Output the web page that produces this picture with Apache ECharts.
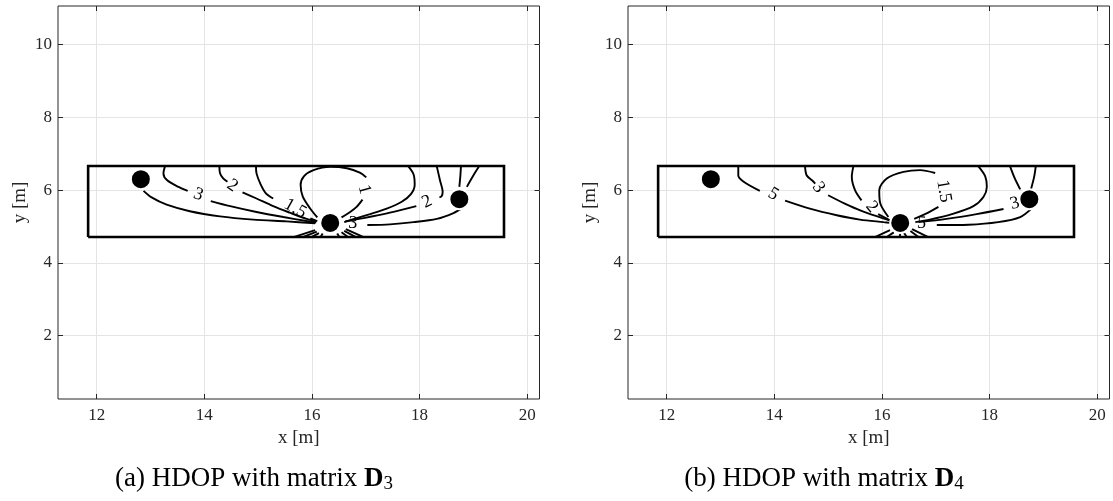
<!DOCTYPE html>
<html>
<head>
<meta charset="utf-8">
<script src="https://cdn.jsdelivr.net/npm/echarts@6/dist/echarts.min.js"></script>
<style>
  html, body { margin: 0; padding: 0; background: #fff; }
  #chart { width: 1113px; height: 501px; }
</style>
</head>
<body>
<div id="chart"></div>
<script>
// ---- axes (metres) ----
const xRange = [11.28, 20.23];
const yRange = [0.26, 11.06];
const xTicks = [12, 14, 16, 18, 20];
const yTicks = [2, 4, 6, 8, 10];
const captions = ['(a) HDOP with matrix {b|D}{s|3}', '(b) HDOP with matrix {b|D}{s|4}'];

// ---- room outline and anchors ----
const room = [[11.84, 4.71], [19.57, 4.71], [19.57, 6.665], [11.84, 6.665], [11.84, 4.71]];
const anchors = [[12.82, 6.30], [16.34, 5.10], [18.74, 5.75]];

// ---- HDOP iso-lines with matrix D3 (segments are split where a label sits) ----
const d3Level3Top = [[13.27, 6.66], [13.24, 6.46], [13.31, 6.27], [13.52, 6.09], [13.69, 5.98]];
const d3Level3Tail = [[14.12, 5.70], [14.48, 5.56], [14.97, 5.40], [15.47, 5.26], [15.90, 5.15], [16.08, 5.11]];
const d3LeftLow = [[12.87, 5.98], [13.02, 5.80], [13.30, 5.60], [13.73, 5.42], [14.29, 5.28], [14.91, 5.19], [15.53, 5.14], [16.06, 5.09]];
const d3Level2Top = [[14.28, 6.66], [14.29, 6.47], [14.35, 6.32], [14.43, 6.23]];
const d3Level2Tail = [[14.71, 5.94], [14.97, 5.77], [15.28, 5.56], [15.59, 5.38], [15.90, 5.21], [16.08, 5.14]];
const d3Level15Top = [[14.96, 6.66], [14.97, 6.46], [15.04, 6.18], [15.14, 5.92], [15.28, 5.77]];
const d3Level15Tail = [[15.97, 5.22], [16.10, 5.15]];
const d3Level1Loop = [[16.10, 5.25], [15.97, 5.49], [15.83, 5.82], [15.79, 6.14], [15.85, 6.38], [16.03, 6.55], [16.34, 6.64], [16.65, 6.60], [16.89, 6.48], [17.01, 6.35]];
const d3Level1Tail = [[16.94, 5.74], [16.83, 5.54], [16.71, 5.40], [16.55, 5.25]];
const d3Level15Right = [[17.79, 6.66], [17.89, 6.43], [17.91, 6.14], [17.84, 5.89], [17.67, 5.68], [17.39, 5.49], [17.08, 5.34], [16.77, 5.20], [16.60, 5.12]];
const d3Level2RightTop = [[18.32, 6.66], [18.38, 6.27], [18.43, 5.95], [18.41, 5.83], [18.37, 5.80]];
const d3Level2RightTail = [[17.94, 5.56], [17.45, 5.38], [16.96, 5.23], [16.62, 5.14]];
const d3AnchorTopA = [[18.77, 6.66], [18.76, 6.41], [18.74, 6.09]];
const d3AnchorTopB = [[19.11, 6.66], [19.00, 6.40], [18.88, 6.09]];
const d3RightLow = [[18.80, 5.52], [18.63, 5.37], [18.32, 5.21], [17.89, 5.12], [17.45, 5.06], [17.03, 5.04]];
const d3Spokes = [
  [[15.66, 4.71], [16.06, 4.90]], [[15.83, 4.71], [16.09, 4.86]], [[15.99, 4.71], [16.13, 4.82]], [[16.16, 4.71], [16.20, 4.81]],
  [[16.51, 4.71], [16.47, 4.81]], [[16.67, 4.71], [16.55, 4.84]], [[16.82, 4.71], [16.60, 4.88]], [[16.96, 4.71], [16.63, 4.93]]
];
// level labels: x, y, text, angle
const d3Labels = [
  [13.89, 5.88, '3', -20], [14.52, 6.12, '2', -35], [15.69, 5.49, '1.5', -29],
  [16.97, 6.02, '1', -75], [18.14, 5.68, '2', 25], [16.76, 5.09, '3', -5]
];

// ---- HDOP iso-lines with matrix D4 ----
const d4Level5Top = [[13.33, 6.66], [13.33, 6.41], [13.43, 6.23], [13.73, 5.98]];
const d4Level5Tail = [[14.20, 5.71], [14.66, 5.49], [15.16, 5.31], [15.59, 5.19], [16.03, 5.12], [16.16, 5.10]];
const d4Level3Top = [[14.57, 6.66], [14.60, 6.41], [14.70, 6.27], [14.76, 6.18]];
const d4Level3Tail = [[15.00, 5.86], [15.31, 5.63], [15.62, 5.43], [15.97, 5.25], [16.18, 5.15]];
const d4Level2Top = [[15.47, 6.66], [15.44, 6.37], [15.50, 6.00], [15.62, 5.72]];
const d4Level2Tail = [[15.93, 5.34], [16.16, 5.16]];
const d4Level15Loop = [[16.12, 5.26], [15.97, 5.63], [15.95, 6.00], [16.09, 6.32], [16.40, 6.50], [16.71, 6.55], [16.99, 6.47]];
const d4Level15Tail = [[17.05, 5.54], [16.83, 5.36], [16.60, 5.21]];
const d4OuterRight = [[17.79, 6.66], [17.92, 6.38], [17.95, 6.09], [17.89, 5.82], [17.70, 5.56], [17.30, 5.34], [16.89, 5.19], [16.62, 5.12]];
const d4Level3RightTop = [[18.38, 6.66], [18.47, 6.32], [18.57, 6.02]];
const d4Level3RightTail = [[18.26, 5.48], [17.76, 5.34], [17.20, 5.21], [16.68, 5.12]];
const d4AnchorTop = [[18.86, 6.66], [18.83, 6.37], [18.77, 6.02]];
const d4RightLow = [[18.80, 5.52], [18.57, 5.26], [18.16, 5.12], [17.61, 5.05], [17.02, 5.04]];
const d4Spokes = [
  [[15.87, 4.71], [16.15, 4.90]], [[16.09, 4.71], [16.22, 4.84]], [[16.33, 4.71], [16.34, 4.81]],
  [[16.46, 4.71], [16.41, 4.83]], [[16.68, 4.71], [16.53, 4.88]], [[16.86, 4.71], [16.56, 4.93]]
];
const d4Labels = [
  [13.98, 5.89, '5', -30], [14.82, 6.07, '3', -55], [15.81, 5.54, '2', -50],
  [17.15, 5.97, '1.5', -80], [18.47, 5.63, '3', 15], [16.74, 5.09, '5', -5]
];

const d3Lines = [d3Level3Top, d3Level3Tail, d3LeftLow, d3Level2Top, d3Level2Tail, d3Level15Top, d3Level15Tail,
  d3Level1Loop, d3Level1Tail, d3Level15Right, d3Level2RightTop, d3Level2RightTail, d3AnchorTopA, d3AnchorTopB,
  d3RightLow].concat(d3Spokes);
const d4Lines = [d4Level5Top, d4Level5Tail, d4Level3Top, d4Level3Tail, d4Level2Top, d4Level2Tail, d4Level15Loop,
  d4Level15Tail, d4OuterRight, d4Level3RightTop, d4Level3RightTail, d4AnchorTop, d4RightLow].concat(d4Spokes);

// ---- styling ----
const SERIF = '"Liberation Serif", "Times New Roman", serif';
const AXIS_COLOR = '#262626';
const gridBoxes = [{ left: 58, top: 6, width: 481.5, height: 393 }, { left: 628, top: 6, width: 481.5, height: 393 }];
const captionX = [254, 824];

function xAxes(g) {
  const base = {
    type: 'value', gridIndex: g, min: xRange[0], max: xRange[1],
    axisLine: { show: false },
    axisTick: { inside: true, length: 5, customValues: xTicks, lineStyle: { color: AXIS_COLOR, width: 1 } }
  };
  return [
    Object.assign({}, base, {
      position: 'bottom', name: 'x [m]', nameLocation: 'middle', nameGap: 27,
      nameTextStyle: { fontFamily: SERIF, fontSize: 19, color: AXIS_COLOR },
      axisLabel: { customValues: xTicks, fontFamily: SERIF, fontSize: 17, color: AXIS_COLOR, margin: 8 },
      splitLine: { show: true, lineStyle: { color: '#e4e4e4', width: 1 } }
    }),
    Object.assign({}, base, { position: 'top', axisLabel: { show: false }, splitLine: { show: false } })
  ];
}
function yAxes(g) {
  const base = {
    type: 'value', gridIndex: g, min: yRange[0], max: yRange[1],
    axisLine: { show: false },
    axisTick: { inside: true, length: 5, customValues: yTicks, lineStyle: { color: AXIS_COLOR, width: 1 } }
  };
  return [
    Object.assign({}, base, {
      position: 'left', name: 'y [m]', nameLocation: 'middle', nameGap: 28, nameRotate: 90,
      nameTextStyle: { fontFamily: SERIF, fontSize: 19, color: AXIS_COLOR },
      axisLabel: { customValues: yTicks, fontFamily: SERIF, fontSize: 17, color: AXIS_COLOR, margin: 6 },
      splitLine: { show: true, lineStyle: { color: '#e4e4e4', width: 1 } }
    }),
    Object.assign({}, base, { position: 'right', axisLabel: { show: false }, splitLine: { show: false } })
  ];
}

function panelSeries(lines, labels, axisIdx) {
  const out = lines.map(seg => ({
    type: 'line', xAxisIndex: axisIdx, yAxisIndex: axisIdx, data: seg,
    showSymbol: false, symbol: 'none', smooth: 0.3, silent: true, z: 3,
    lineStyle: { color: '#000', width: 1.9 }
  }));
  out.push({
    type: 'line', xAxisIndex: axisIdx, yAxisIndex: axisIdx, data: room,
    showSymbol: false, symbol: 'none', silent: true, z: 4,
    lineStyle: { color: '#000', width: 2.6, join: 'miter' }
  });
  out.push({
    type: 'scatter', xAxisIndex: axisIdx, yAxisIndex: axisIdx, silent: true, z: 2,
    symbol: 'circle', symbolSize: 1, itemStyle: { color: 'rgba(0,0,0,0)', opacity: 1 },
    data: labels.map(l => ({ value: [l[0], l[1]], name: l[2], label: { rotate: l[3] } })),
    label: { show: true, position: 'inside', formatter: p => p.name, fontFamily: SERIF, fontSize: 18, color: '#000', opacity: 1 }
  });
  out.push({
    type: 'scatter', xAxisIndex: axisIdx, yAxisIndex: axisIdx, silent: true, z: 6,
    symbol: 'circle', symbolSize: 20, data: anchors,
    itemStyle: { color: '#000', opacity: 1, borderColor: '#fff', borderWidth: 2 }
  });
  return out;
}

const chart = echarts.init(document.getElementById('chart'), null, { renderer: 'canvas' });
chart.setOption({
  animation: false,
  backgroundColor: '#fff',
  grid: gridBoxes.map(b => Object.assign({ show: true, borderColor: AXIS_COLOR, borderWidth: 1, containLabel: false }, b)),
  xAxis: xAxes(0).concat(xAxes(1)),
  yAxis: yAxes(0).concat(yAxes(1)),
  series: panelSeries(d3Lines, d3Labels, 0).concat(panelSeries(d4Lines, d4Labels, 2)),
  graphic: captions.map((c, i) => ({
    type: 'text', x: captionX[i], y: 479, silent: true,
    style: {
      text: c, align: 'center', verticalAlign: 'middle', fill: '#000',
      font: '27px ' + SERIF, lineHeight: 30,
      rich: {
        b: { fontFamily: SERIF, fontSize: 27, fontWeight: 'bold', lineHeight: 30 },
        s: { fontFamily: SERIF, fontSize: 19, lineHeight: 20, verticalAlign: 'bottom' }
      }
    }
  }))
});
</script>
</body>
</html>
